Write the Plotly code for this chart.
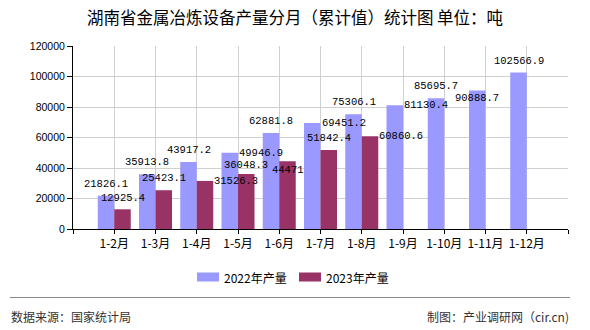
import plotly.graph_objects as go

# ---- data ----
categories = ['1-2月', '1-3月', '1-4月', '1-5月', '1-6月', '1-7月', '1-8月',
              '1-9月', '1-10月', '1-11月', '1-12月']
values_2022 = [21826.1, 35913.8, 43917.2, 49946.9, 62881.8, 69451.2, 75306.1,
               81130.4, 85695.7, 90888.7, 102566.9]
values_2023 = [12925.4, 25423.1, 31526.3, 36048.3, 44471, 51842.4, 60860.6]
series_names = ['2022年产量', '2023年产量']
y_ticks = [0, 20000, 40000, 60000, 80000, 100000, 120000]

# ---- label placement styles (per bar): anchor side and vertical pixel shift ----
side_2022 = ['c', 'c', 'c', 'r', 'c', 'r', 'c', 'r', 'c', 'c', 'c']
dy_2022 = [12, 12, 12, 0, 12, 0, 12, 0, 12, -8, 12]
side_2023 = ['c', 'c', 'r', 'c', 'c', 'c', 'r']
dy_2023 = [11, 12, 0, 9, -9, 12, 0]

color_2022 = '#9999ff'
color_2023 = '#993366'
BAR_W = 0.4

x_pos = list(range(1, len(categories) + 1))
x_2023 = x_pos[:len(values_2023)]

fig = go.Figure()
fig.add_trace(go.Bar(x=x_pos, y=values_2022, name=series_names[0],
                     marker=dict(color=color_2022, line=dict(width=0)),
                     width=BAR_W, offset=-BAR_W, showlegend=False))
fig.add_trace(go.Bar(x=x_2023, y=values_2023, name=series_names[1],
                     marker=dict(color=color_2023, line=dict(width=0)),
                     width=BAR_W, offset=0, showlegend=False))

label_font = dict(family='Liberation Mono, DejaVu Sans Mono, monospace', size=10.5, color='#000000')
annotations = []

def add_labels(xs, vals, sides, dys, offset):
    for x, v, s, dy in zip(xs, vals, sides, dys):
        center = x + offset + BAR_W / 2
        right_edge = x + offset + BAR_W
        txt = str(v)
        if s == 'r':
            annotations.append(dict(x=right_edge, y=v, text=txt, showarrow=False,
                                    xanchor='left', yanchor='middle', yshift=dy,
                                    borderpad=0, font=label_font))
        else:
            annotations.append(dict(x=center, y=v, text=txt, showarrow=False,
                                    xanchor='center', yanchor='middle', yshift=dy,
                                    borderpad=0, font=label_font))

add_labels(x_pos, values_2022, side_2022, dy_2022, -BAR_W)
add_labels(x_2023, values_2023, side_2023, dy_2023, 0)

# ---- manual legend, separator, footer (paper coords from pixel layout) ----
L, R, T, B = 73, 568, 46, 229
def px(p):
    return (p - L) / (R - L)
def py(p):
    return (B - p) / (B - T)

shapes = []
legend_items = [(197, 219, 223, color_2022, series_names[0]),
                (299, 321, 325, color_2023, series_names[1])]
for x0, x1, xt, col, name in legend_items:
    shapes.append(dict(type='rect', xref='paper', yref='paper',
                       x0=px(x0), x1=px(x1), y0=py(281.5), y1=py(272.5),
                       fillcolor=col, line=dict(width=0)))
    annotations.append(dict(xref='paper', yref='paper', x=px(xt), y=py(277),
                            text=name, showarrow=False, xanchor='left', yanchor='middle',
                            borderpad=0,
                            font=dict(family='Noto Sans CJK SC', size=12, color='#000000')))

shapes.append(dict(type='line', xref='paper', yref='paper',
                   x0=px(10), x1=px(570), y0=py(297.5), y1=py(297.5),
                   line=dict(color='#888888', width=1.2)))
annotations.append(dict(xref='paper', yref='paper', x=px(10), y=py(316),
                        text='数据来源：国家统计局', showarrow=False,
                        xanchor='left', yanchor='middle', borderpad=0,
                        font=dict(family='Noto Sans CJK SC', size=12, color='#333333')))
annotations.append(dict(xref='paper', yref='paper', x=px(570), y=py(316),
                        text='制图：产业调研网（cir.cn)', showarrow=False,
                        xanchor='right', yanchor='middle', borderpad=0,
                        font=dict(family='Noto Sans CJK SC', size=12, color='#333333')))

fig.update_layout(
    width=590, height=330,
    margin=dict(l=L, r=590 - R, t=T, b=330 - B),
    paper_bgcolor='#ffffff', plot_bgcolor='#ffffff',
    barmode='overlay',
    title=dict(text='湖南省金属冶炼设备产量分月（累计值）统计图 单位：吨',
               x=0.5, xanchor='center', y=1 - 18 / 330, yanchor='middle',
               font=dict(family='Noto Sans CJK SC', size=16.5, color='#000000')),
    annotations=annotations,
    shapes=shapes,
    showlegend=False,
)
fig.update_xaxes(range=[0, len(categories) + 1],
                 tickmode='array',
                 tickvals=list(range(0, len(categories) + 2)),
                 ticktext=[''] + categories + [''],
                 showgrid=True, gridcolor='#d0d0d0', gridwidth=1,
                 showline=True, linecolor='#000000', linewidth=1,
                 ticks='outside', ticklen=4, tickcolor='#000000',
                 tickfont=dict(family='Noto Sans CJK SC', size=12, color='#000000'),
                 zeroline=False, fixedrange=True)
fig.update_yaxes(range=[0, 120000], tickmode='array', tickvals=y_ticks,
                 tickformat='d',
                 showgrid=True, gridcolor='#d0d0d0', gridwidth=1,
                 showline=True, linecolor='#000000', linewidth=1,
                 ticks='outside', ticklen=5, tickcolor='#000000',
                 tickfont=dict(family='Liberation Sans, Arial, sans-serif', size=10.5, color='#000000'),
                 zeroline=False, fixedrange=True)

fig.write_html('out.html')
